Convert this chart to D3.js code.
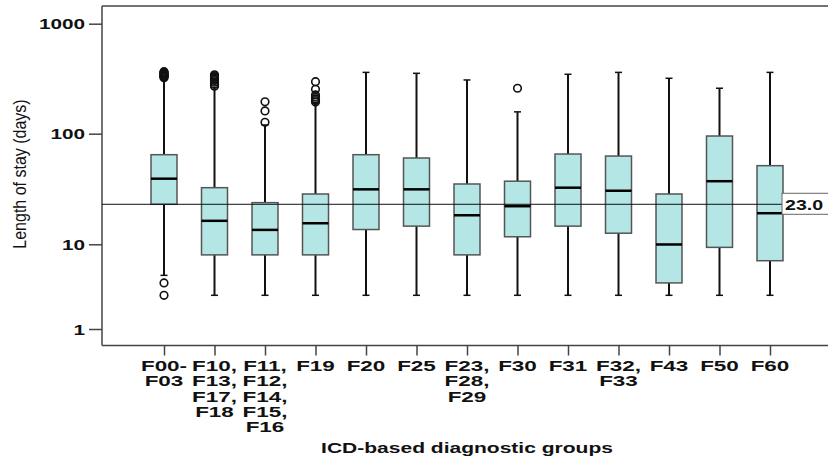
<!DOCTYPE html>
<html>
<head>
<meta charset="utf-8">
<script src="https://cdn.jsdelivr.net/npm/d3@7.9.0/dist/d3.min.js"></script>
<style>
  body { margin: 0; background: #fff; }
  text { font-family: "Liberation Sans", Arial, sans-serif; fill: #111; }
</style>
</head>
<body>
<svg id="chart" width="828" height="461"></svg>
<script>
// categories and their multi-line tick labels
const groups = ['F00-F03', 'F10', 'F11', 'F19', 'F20', 'F25', 'F23', 'F30', 'F31', 'F32', 'F43', 'F50', 'F60'];
const tickLines = [
    ['F00-', 'F03'], ['F10,', 'F13,', 'F17,', 'F18'], ['F11,', 'F12,', 'F14,', 'F15,', 'F16'],
    ['F19'], ['F20'], ['F25'], ['F23,', 'F28,', 'F29'], ['F30'], ['F31'],
    ['F32,', 'F33'], ['F43'], ['F50'], ['F60']
];

// box statistics (days)
const whiskerLow  = [4.3, 2.5, 2.5, 2.5, 2.5, 2.5, 2.5, 2.5, 2.5, 2.5, 2.5, 2.5, 2.5];
const q1          = [23.0, 7.5, 7.5, 7.5, 13.6, 14.6, 7.5, 11.7, 14.6, 12.6, 3.5, 9.2, 6.4];
const median      = [39.2, 16.3, 13.5, 15.5, 31.4, 31.4, 18.3, 22.1, 32.5, 30.5, 9.95, 37.2, 19.1];
const q3          = [64.6, 32.5, 23.8, 28.5, 64.6, 60.3, 35.1, 37.2, 65.5, 62.8, 28.5, 95.3, 51.4];
const whiskerHigh = [318, 262, 120, 189, 361, 354, 308, 158, 347, 361, 319, 259, 361];
const outliers = [
    [322, 327, 332, 337, 342, 347, 352, 357, 362, 366, 3.5, 2.5],
    [270, 282, 294, 304, 312, 320, 328, 336, 343],
    [127, 161, 195],
    [194, 200, 207, 215, 225, 253, 297],
    [], [], [],
    [259],
    [], [], [], [], []
];
const refValue = 23.0;
const yTicks = [1, 10, 100, 1000];

const svg = d3.select('#chart');

let x = d3.scalePoint()
    .domain(groups)
    .range([164, 770]);

// log axis, the lowest decade is drawn shorter in the original
let y = d3.scaleLog()
    .domain([1, 10, 100, 1000])
    .range([329, 244.3, 133.7, 23.7]);

const plotLeft = 102, plotRight = 828, plotTop = 6, plotBottom = 345.5;
const boxW = 26, capW = 7;

// frame
svg.append('line').attr('x1', plotLeft).attr('x2', plotRight).attr('y1', plotTop).attr('y2', plotTop)
    .attr('stroke', '#444').attr('stroke-width', 1.5);
svg.append('line').attr('x1', plotLeft).attr('x2', plotRight).attr('y1', plotBottom).attr('y2', plotBottom)
    .attr('stroke', '#444').attr('stroke-width', 1.5);

// y axis
let yAxis = svg.append('g')
    .attr('transform', `translate(${plotLeft},0)`)
    .call(d3.axisLeft(y).tickValues(yTicks).tickSize(13).tickFormat(d3.format('d')));
yAxis.select('.domain').attr('d', `M0,${plotTop}V${plotBottom}`).attr('stroke', '#444').attr('stroke-width', 1.5);
yAxis.selectAll('.tick line').attr('stroke', '#444').attr('stroke-width', 1.5);
yAxis.selectAll('.tick text')
    .attr('x', 0).attr('dy', '0.36em')
    .attr('transform', 'translate(-17,0) scale(1.43,1)')
    .style('font-family', '"Liberation Sans", Arial, sans-serif')
    .style('font-size', '14.5px').style('font-weight', 'bold').style('fill', '#111');

// x axis
let xAxis = svg.append('g')
    .attr('transform', `translate(0,${plotBottom})`)
    .call(d3.axisBottom(x).tickSize(10).tickFormat(''));
xAxis.select('.domain').remove();
xAxis.selectAll('.tick line').attr('stroke', '#444').attr('stroke-width', 1.5);

groups.forEach((g, i) => {
    let t = svg.append('text')
        .attr('transform', `translate(${x(g)},371) scale(1.55,1)`)
        .attr('text-anchor', 'middle')
        .style('font-size', '14.5px').style('font-weight', 'bold');
    tickLines[i].forEach((line, j) => {
        t.append('tspan').attr('x', 0).attr('y', j * 15.3).text(line);
    });
});

// axis titles
svg.append('text')
    .attr('transform', 'translate(467,453) scale(1.45,1)')
    .attr('text-anchor', 'middle')
    .style('font-size', '14.5px').style('font-weight', 'bold')
    .text('ICD-based diagnostic groups');

svg.append('text')
    .attr('transform', 'translate(26,174) scale(1.15,1) rotate(-90)')
    .attr('text-anchor', 'middle')
    .style('font-size', '16px')
    .text('Length of stay (days)');

// boxes
const boxes = svg.append('g');
groups.forEach((g, i) => {
    let cx = x(g);
    let b = boxes.append('g');
    b.append('line')
        .attr('x1', cx).attr('x2', cx)
        .attr('y1', y(whiskerLow[i])).attr('y2', y(whiskerHigh[i]))
        .attr('stroke', '#111').attr('stroke-width', 2);
    [whiskerLow[i], whiskerHigh[i]].forEach((v) => {
        b.append('line')
            .attr('x1', cx - capW / 2).attr('x2', cx + capW / 2)
            .attr('y1', y(v)).attr('y2', y(v))
            .attr('stroke', '#111').attr('stroke-width', 1.5);
    });
    b.append('rect')
        .attr('x', cx - boxW / 2).attr('width', boxW)
        .attr('y', y(q3[i])).attr('height', y(q1[i]) - y(q3[i]))
        .attr('fill', '#b4e6e6').attr('stroke', '#555').attr('stroke-width', 1.5);
    b.append('line')
        .attr('x1', cx - boxW / 2).attr('x2', cx + boxW / 2)
        .attr('y1', y(median[i])).attr('y2', y(median[i]))
        .attr('stroke', '#000').attr('stroke-width', 2.5);
    outliers[i].forEach((v) => {
        b.append('circle')
            .attr('cx', cx).attr('cy', y(v)).attr('r', 3.8)
            .attr('fill', 'none').attr('stroke', '#111').attr('stroke-width', 1.6);
    });
});

// reference line with label
svg.append('line')
    .attr('x1', plotLeft).attr('x2', 782)
    .attr('y1', y(refValue)).attr('y2', y(refValue))
    .attr('stroke', '#111').attr('stroke-width', 1);
svg.append('rect')
    .attr('x', 782).attr('y', y(refValue) - 11).attr('width', 50).attr('height', 21)
    .attr('fill', '#fff').attr('stroke', '#666').attr('stroke-width', 1);
svg.append('text')
    .attr('transform', `translate(785,${y(refValue) + 5.5}) scale(1.35,1)`)
    .style('font-size', '14.5px').style('font-weight', 'bold')
    .text(d3.format('.1f')(refValue));
</script>
</body>
</html>
